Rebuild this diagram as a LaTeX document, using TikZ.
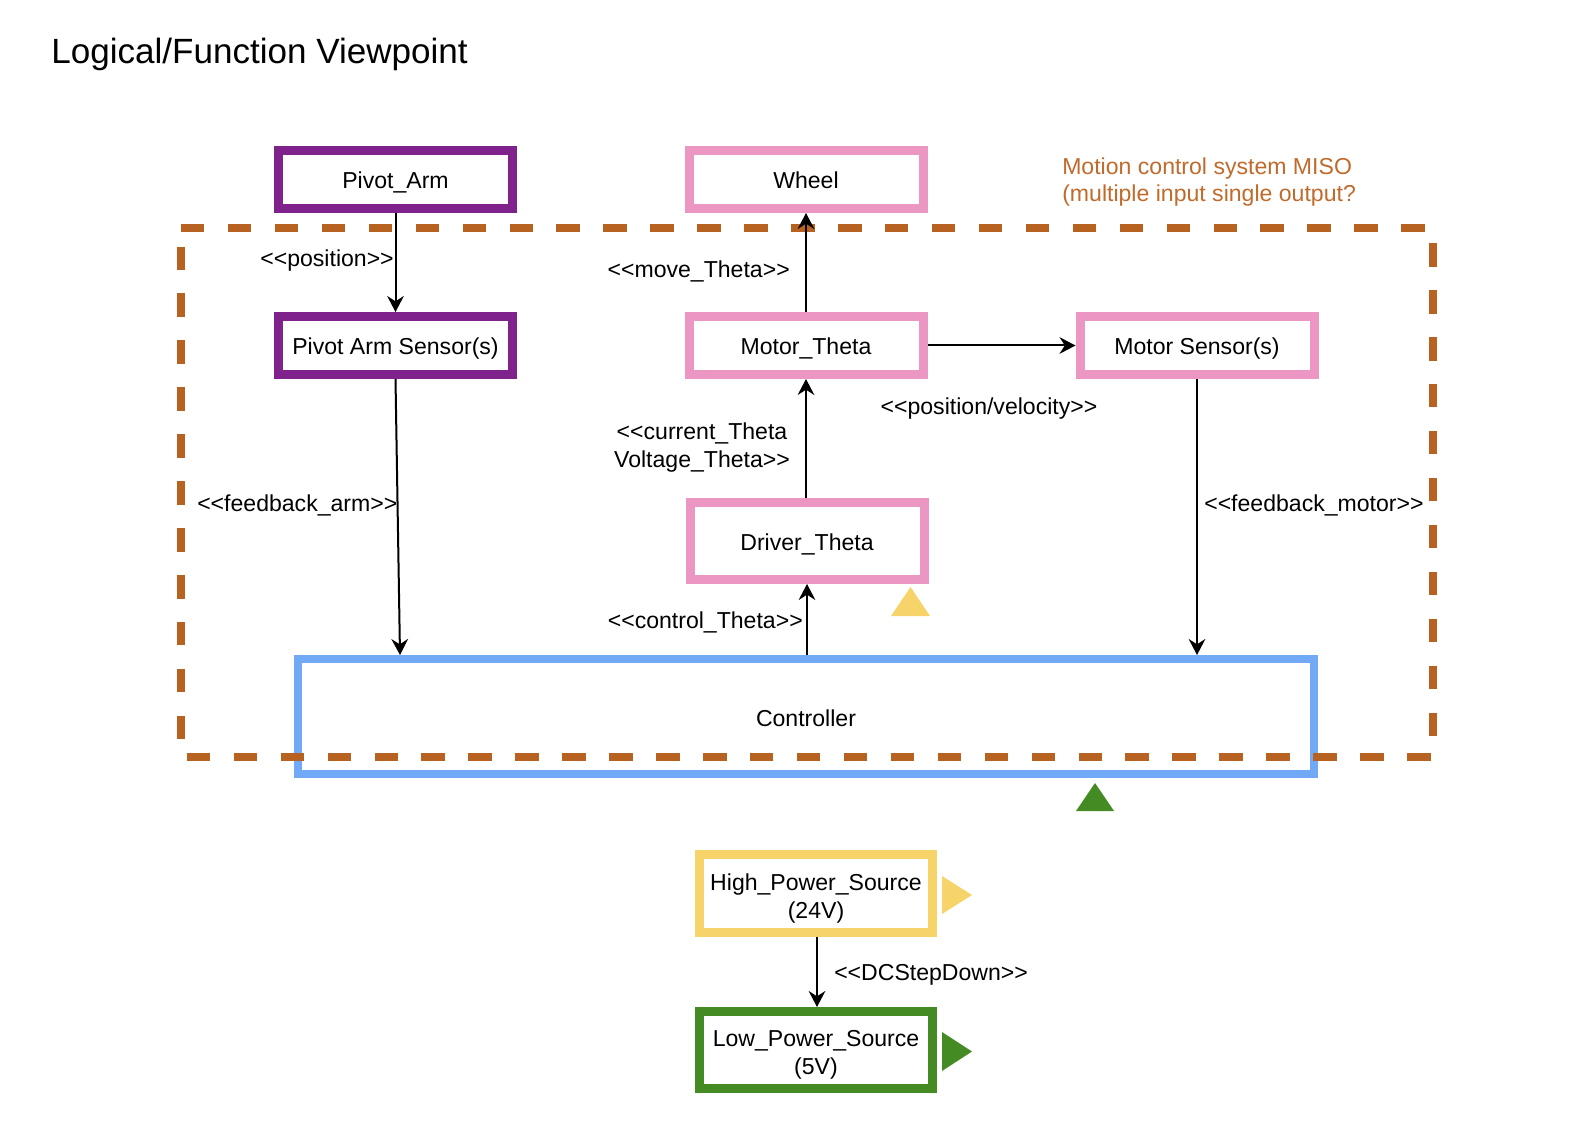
\documentclass[tikz,border=0pt]{standalone}
\usepackage{fontspec}
\setmainfont{Liberation Sans}
\usetikzlibrary{arrows.meta}
\definecolor{purp}{RGB}{128,34,140}
\definecolor{pinkc}{RGB}{236,151,195}
\definecolor{bluec}{RGB}{113,169,247}
\definecolor{orangec}{RGB}{183,98,32}
\definecolor{orangetext}{RGB}{192,106,44}
\definecolor{yellowc}{RGB}{246,212,106}
\definecolor{greenc}{RGB}{67,139,34}
\begin{document}
\begin{tikzpicture}[x=0.75pt,y=-0.75pt,
  txt/.style={font=\fontsize{17.3}{21}\selectfont},
  box/.style={txt, draw, fill=white, line width=6.75pt, inner sep=0pt,
    minimum width=175.5pt, minimum height=43.5pt, text height=14.2pt, text depth=0pt},
  box2/.style={txt, draw, fill=white, line width=6.75pt, inner sep=0pt,
    minimum width=175pt, minimum height=58pt, align=center, text height=40.4pt, text depth=3.6pt},
  lbl/.style={txt, inner sep=0pt},
  arr/.style={draw, line width=1.5pt, -{Stealth[length=12pt,width=12.5pt,inset=4pt]}}]
\useasboundingbox (0,0) rectangle (1570,1130);

\node[anchor=base west, inner sep=0pt, font=\fontsize{26.3}{31}\selectfont] (title) at (51,63.3) {Logical/Function Viewpoint};

% boxes
\node[box, draw=purp] (pa) at (395.5,179.5) {Pivot\_Arm};
\node[box, draw=purp] (pas) at (395.5,345.5) {Pivot Arm Sensor(s)};
\node[box, draw=pinkc] (wh) at (806,179.5) {Wheel};
\node[box, draw=pinkc] (mt) at (806,345.5) {Motor\_Theta};
\node[box, draw=pinkc] (ms) at (1197,345.5) {Motor Sensor(s)};
\node[box, draw=pinkc, minimum height=57.75pt] (dt) at (807,541) {Driver\_Theta};
\node[box, draw=bluec, line width=6pt, minimum width=762pt, minimum height=86.25pt, text height=15pt] (ctrl) at (806,716.5) {Controller};
\node[box2, draw=yellowc] (hp) at (816,893.5) {High\_Power\_Source\\(24V)};
\node[box2, draw=greenc, minimum height=57.75pt] (lp) at (816,1050) {Low\_Power\_Source\\(5V)};

% dashed system boundary (drawn over controller)
\draw[orangec, line width=6pt, dash pattern=on 17.6pt off 17.6pt]
  (181,228) -- (1433,228) -- (1433,757) -- (181,757) -- cycle;

% triangles
\fill[yellowc] (891,616) -- (930,616) -- (910.5,587) -- cycle;
\fill[greenc] (1076,811) -- (1114,811) -- (1095,783) -- cycle;
\fill[yellowc] (942,876) -- (942,914) -- (972,895) -- cycle;
\fill[greenc] (942,1032) -- (942,1071) -- (972,1051.5) -- cycle;

% connectors
\coordinate (fx) at (400,0);
\coordinate (px) at (817,0);
\draw[arr] (pa.south) -- (pas.north);
\draw[arr] (pas.south) -- (ctrl.north -| fx);
\draw[arr] (mt.north) -- (wh.south);
\draw[arr] (mt.east) -- (ms.west);
\draw[arr] (dt.north -| mt.south) -- (mt.south);
\draw[arr] (ctrl.north -| dt.south) -- (dt.south);
\draw[arr] (ms.south) -- (ms.south |- ctrl.north);
\draw[arr] (hp.south -| px) -- (lp.north -| px);

% labels
\node[lbl, anchor=base east] (lpos) at (394,267) {<{}<position>{}>};
\node[lbl, anchor=base east] (lmove) at (790,278) {<{}<move\_Theta>{}>};
\node[lbl, anchor=base] (lpv) at (989,414) {<{}<position/velocity>{}>};
\node[lbl, anchor=base, align=center] (lcur) at (702,467.3) {<{}<current\_Theta\\Voltage\_Theta>{}>};
\node[lbl, anchor=base west] (lfa) at (197,511.7) {<{}<feedback\_arm>{}>};
\node[lbl, anchor=base west] (lfm) at (1204,511.7) {<{}<feedback\_motor>{}>};
\node[lbl, anchor=base east] (lct) at (803,628.3) {<{}<control\_Theta>{}>};
\node[lbl, anchor=base west] (ldc) at (834,980) {<{}<DCStepDown>{}>};
\node[lbl, anchor=base west, text=orangetext] (lmiso1) at (1062,175) {Motion control system MISO};
\node[lbl, anchor=base west, text=orangetext] (lmiso2) at (1062,202) {(multiple input single output?};
\end{tikzpicture}
\end{document}
